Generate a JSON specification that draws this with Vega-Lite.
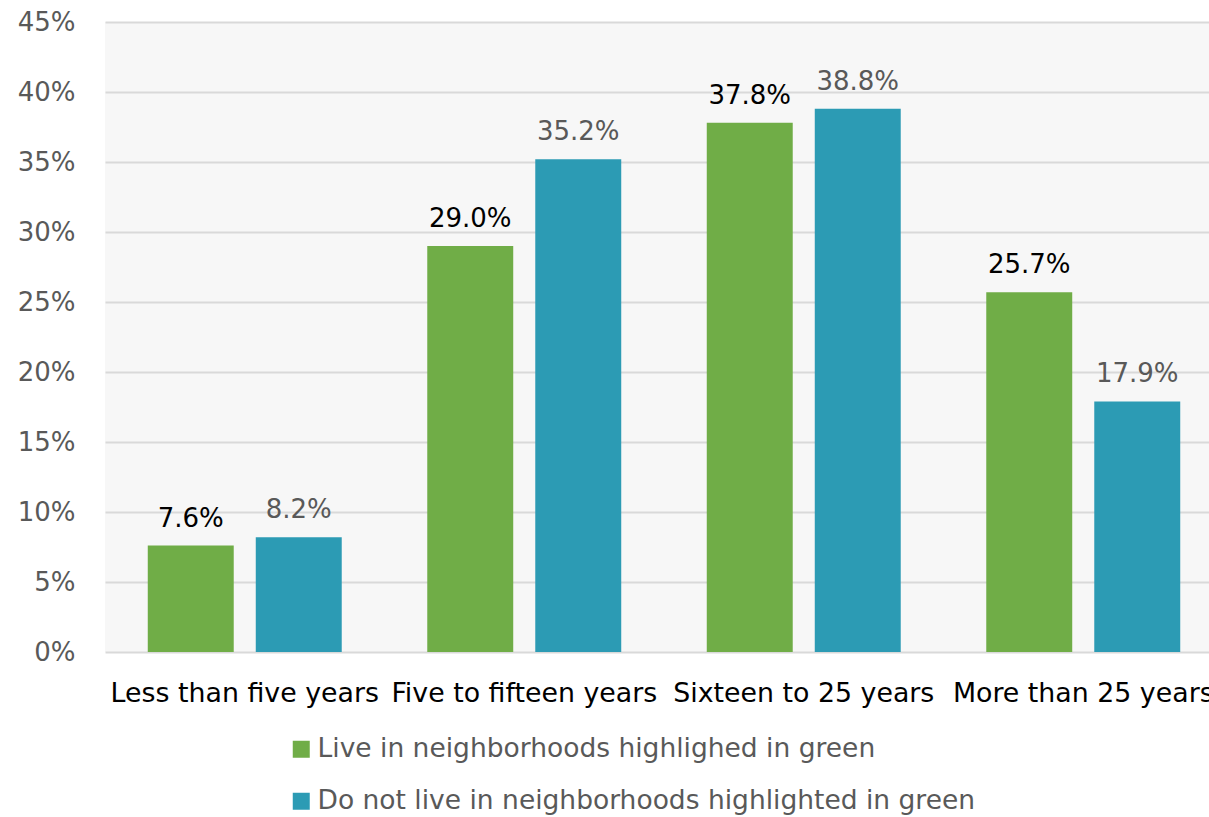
{
  "$schema": "https://vega.github.io/schema/vega-lite/v6.json",
  "autosize": {"type": "none"},
  "padding": {"left": 105, "top": 22, "right": 0, "bottom": 165},
  "width": 1104,
  "height": 630,
  "background": "white",
  "config": {
    "font": "DejaVu Sans",
    "view": {"fill": "#f7f7f7", "stroke": null}
  },
  "data": {
    "values": [
      {"period": "Less than five years", "series": "Live in neighborhoods highlighed in green", "value": 0.076},
      {"period": "Less than five years", "series": "Do not live in neighborhoods highlighted in green", "value": 0.082},
      {"period": "Five to fifteen years", "series": "Live in neighborhoods highlighed in green", "value": 0.290},
      {"period": "Five to fifteen years", "series": "Do not live in neighborhoods highlighted in green", "value": 0.352},
      {"period": "Sixteen to 25 years", "series": "Live in neighborhoods highlighed in green", "value": 0.378},
      {"period": "Sixteen to 25 years", "series": "Do not live in neighborhoods highlighted in green", "value": 0.388},
      {"period": "More than 25 years", "series": "Live in neighborhoods highlighed in green", "value": 0.257},
      {"period": "More than 25 years", "series": "Do not live in neighborhoods highlighted in green", "value": 0.179}
    ]
  },
  "encoding": {
    "x": {
      "field": "period", "type": "nominal", "sort": null, "title": null,
      "scale": {"range": [0, 1118], "paddingInner": 0.306, "paddingOuter": 0.153},
      "axis": {"labelAngle": 0, "labelFontSize": 26.8, "labelColor": "#000000", "ticks": false, "tickSize": 0, "domain": false, "grid": false, "labelBaseline": "alphabetic", "labelPadding": 49, "labelOverlap": false, "labelBound": false, "labelLimit": 0}
    },
    "xOffset": {
      "field": "series", "type": "nominal",
      "scale": {"domain": ["Live in neighborhoods highlighed in green", "Do not live in neighborhoods highlighted in green"], "paddingInner": 0.204, "paddingOuter": 0}
    },
    "y": {
      "field": "value", "type": "quantitative", "title": null,
      "scale": {"domain": [0, 0.45], "nice": false},
      "axis": {"format": ".0%", "values": [0, 0.05, 0.1, 0.15, 0.2, 0.25, 0.3, 0.35, 0.4, 0.45], "labelFontSize": 26, "labelColor": "#595959", "ticks": false, "tickSize": 0, "domain": false, "gridColor": "#d9d9d9", "gridWidth": 2, "labelPadding": 30}
    }
  },
  "layer": [
    {
      "mark": {"type": "bar"},
      "encoding": {
        "color": {
          "field": "series", "type": "nominal",
          "scale": {"domain": ["Live in neighborhoods highlighed in green", "Do not live in neighborhoods highlighted in green"], "range": ["#70ad47", "#2c9bb4"]},
          "legend": {"title": null, "orient": "none", "legendX": 183, "legendY": 714, "direction": "vertical", "symbolType": "square", "symbolSize": 289, "symbolStrokeWidth": 0, "labelFontSize": 26.5, "labelColor": "#595959", "labelOffset": 3, "rowPadding": 25, "padding": 0, "labelLimit": 1000}
        }
      }
    },
    {
      "mark": {"type": "text", "baseline": "alphabetic", "dy": -19, "fontSize": 26},
      "encoding": {
        "text": {"field": "value", "type": "quantitative", "format": ".1%"},
        "color": {
          "field": "series", "type": "nominal",
          "scale": {"domain": ["Live in neighborhoods highlighed in green", "Do not live in neighborhoods highlighted in green"], "range": ["#000000", "#595959"]},
          "legend": null
        }
      }
    }
  ],
  "resolve": {"scale": {"color": "independent"}}
}
